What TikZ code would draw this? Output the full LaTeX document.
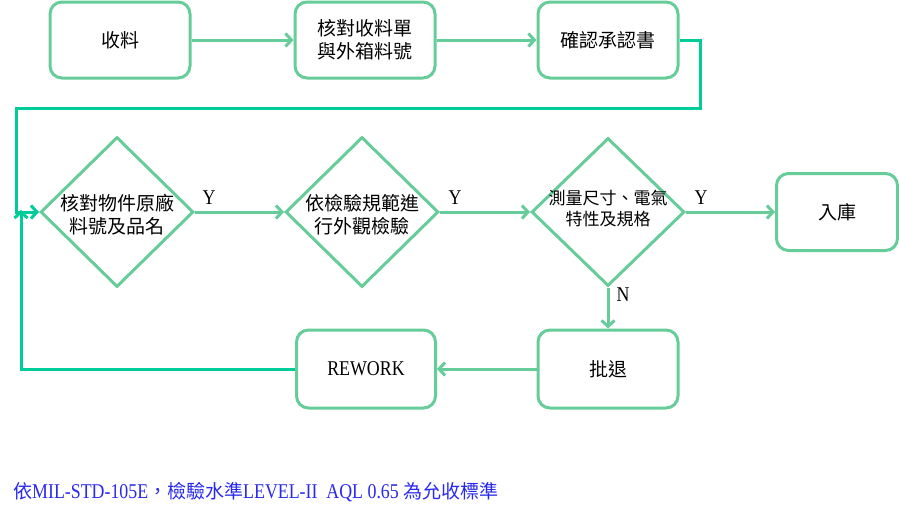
\documentclass[tikz,border=0pt]{standalone}
\usepackage{fontspec}
\usetikzlibrary{shapes.geometric,arrows.meta}
\newfontfamily\cjk{Noto Sans CJK TC}
\newfontfamily\lserif[FakeStretch=0.85]{Liberation Serif}
\definecolor{boxgreen}{RGB}{102,204,153}
\definecolor{loopgreen}{RGB}{0,204,153}
\definecolor{notebl}{RGB}{40,40,240}
\tikzset{
  arr/.tip={Straight Barb[length=6pt,width=13pt,line width=3pt]},
  procbox/.style={draw=boxgreen,line width=3pt,rounded corners=12pt,fill=white,
    minimum width=140pt,minimum height=76pt,inner sep=0pt,align=center,
    font=\cjk\fontsize{19}{23}\selectfont},
  diabox/.style={draw=boxgreen,line width=3pt,diamond,aspect=1,inner sep=0pt,
    minimum width=153pt,minimum height=150pt},
  diatext/.style={align=center,inner sep=0pt,font=\cjk\fontsize{19}{23}\selectfont},
  flow/.style={draw=boxgreen,line width=3pt,-arr},
  loopline/.style={draw=loopgreen,line width=3pt},
  yn/.style={font=\lserif\fontsize{21}{21}\selectfont,inner sep=0pt}
}
\begin{document}
\begin{tikzpicture}[x=1pt,y=-1pt]
\useasboundingbox (0,0) rectangle (899,512);
% top row
\node[procbox] (n1) at (120,40) {收料};
\node[procbox] (n2) at (365,40) {核對收料單\\與外箱料號};
\node[procbox] (n3) at (608,40) {確認承認書};
% diamonds
\node[diabox] (d1) at (117,212) {};
\node[diatext] (t1) at (117,215) {核對物件原廠\\料號及品名};
\node[diabox] (d2) at (362,212) {};
\node[diatext] (t2) at (362,215) {依檢驗規範進\\行外觀檢驗};
\node[diabox,minimum height=148pt] (d3) at (608,212) {};
\node[diatext,font=\cjk\fontsize{17}{21}\selectfont] (t3) at (608,209) {測量尺寸、電氣\\特性及規格};
\node[procbox,minimum width=121pt,minimum height=77pt] (n4) at (837,212) {入庫};
% bottom row
\node[procbox,minimum height=78pt] (n5) at (608,369) {批退};
\node[procbox,minimum width=139pt,minimum height=78pt,font=\lserif\fontsize{21}{21}\selectfont] (n6) at (366,369) {REWORK};
% coordinates for loops
\coordinate (c1) at (700,108);
\coordinate (c2) at (16,108);
\coordinate (c3) at (16,212);
\coordinate (c4) at (21,369);
\coordinate (c5) at (21,210);
% connectors
\draw[flow] (n1.east) -- (n2.west);
\draw[flow] (n2.east) -- (n3.west);
\draw[loopline,-arr] (n3.east) -| (c1) -- (c2) -- (c3) -- (d1.west);
\draw[loopline,-arr] (n6.west) -- (c4) -- (c5);
\draw[flow] (d1.east) -- (d2.west);
\draw[flow] (d2.east) -- (d3.west);
\draw[flow] (d3.east) -- (n4.west);
\draw[flow] (d3.south) -- (n5.north);
\draw[flow] (n5.west) -- (n6.east);
% labels
\node[yn] (y1) at (209,198) {Y};
\node[yn] (y2) at (455,198) {Y};
\node[yn] (y3) at (701,198) {Y};
\node[yn] (nn) at (623,295) {N};
% note
\node[anchor=west,inner sep=0pt,text=notebl] (note) at (13,492)
  {{\cjk\fontsize{19}{19}\selectfont 依}{\lserif\fontsize{21}{21}\selectfont MIL-STD-105E}{\cjk\fontsize{19}{19}\selectfont ，檢驗水準}{\lserif\fontsize{21}{21}\selectfont LEVEL-II\ \ AQL 0.65 }{\cjk\fontsize{19}{19}\selectfont 為允收標準}};
\end{tikzpicture}
\end{document}
